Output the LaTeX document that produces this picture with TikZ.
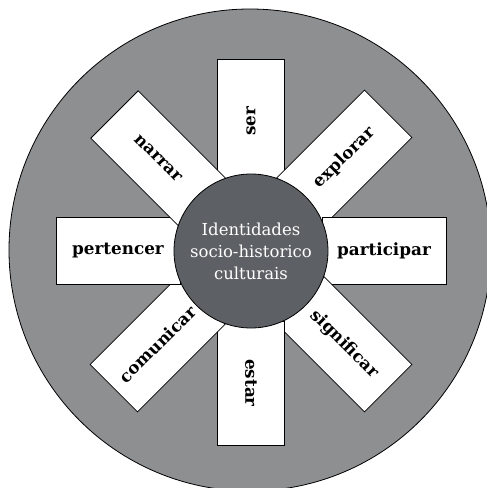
\documentclass[tikz,border=0pt]{standalone}
\usepackage{fontspec}
\setmainfont{DejaVu Serif}
\definecolor{wheelgray}{HTML}{8E8F91}
\definecolor{hubgray}{HTML}{5D6064}

\begin{document}
\begin{tikzpicture}[x=1pt, y=1pt]
	\tikzstyle{arm} = [draw, line width=0.8pt, fill=white, inner sep=0pt, minimum width=124pt, minimum height=67pt, font=\fontsize{16.8}{19}\selectfont\bfseries]
	\tikzstyle{hub} = [draw, line width=0.8pt, circle, fill=hubgray, minimum size=154pt, inner sep=0pt, text=white, align=center, font=\fontsize{16.5}{22}\selectfont]
	\useasboundingbox (-251,-237) rectangle (236,251);
	\node[draw, line width=0.8pt, circle, fill=wheelgray, minimum size=482pt] (wheel) at (-1,1) {};
	% the eight arms, read outwards unless that would put them upside down
	\node[arm, rotate=90] (ser) at (90:130) {ser}; \node[arm, rotate=45] (explorar) at (45:132) {explorar};
	\node[arm] (participar) at (0:133) {participar}; \node[arm, rotate=-45] (significar) at (-45:132) {significar};
	\node[arm, rotate=-90] (estar) at (-90:132) {estar}; \node[arm, rotate=45] (comunicar) at (225:132) {comunicar};
	\node[arm] (pertencer) at (180:133) {pertencer}; \node[arm, rotate=-45] (narrar) at (135:131) {narrar};
	\node[hub] (identidades) at (0,0) {Identidades\\socio-historico\\culturais};
\end{tikzpicture}
\end{document}
